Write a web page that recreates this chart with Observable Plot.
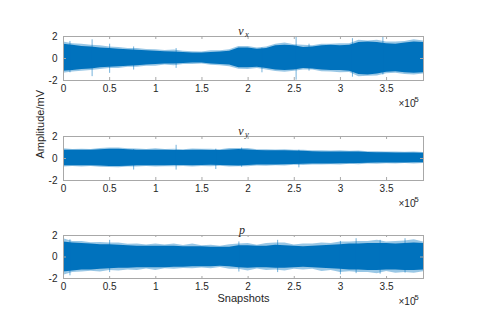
<!DOCTYPE html>
<html>
<head>
<meta charset="utf-8">
<script src="https://cdn.jsdelivr.net/npm/d3@7"></script>
<script src="https://cdn.jsdelivr.net/npm/@observablehq/plot@0.6"></script>
<style>
  html, body { margin: 0; padding: 0; background: #fff; }
  #chart { width: 479px; height: 326px; overflow: hidden; }
  #chart svg { display: block; }
</style>
</head>
<body>
<div id="chart"></div>
<script>
// sample positions (snapshots) at which the envelope was read
const snapshots = d3.range(0, 390001, 10000);
const xTicks = [0, 50000, 100000, 150000, 200000, 250000, 300000, 350000];
const yTicks = [-2, 0, 2];

// v_x : dense core envelope and light outer fringe (mV)
const vxHi  = [1.30,1.20,1.10,1.05,0.95,0.90,0.85,0.80,0.75,0.70,0.65,0.62,0.60,0.55,0.50,0.50,0.55,0.60,0.65,0.95,0.95,0.85,0.90,1.15,1.20,1.15,1.00,1.05,1.15,1.20,1.15,1.20,1.45,1.50,1.45,1.35,1.30,1.40,1.50,1.45];
const vxLo  = [-1.15,-1.10,-1.00,-0.95,-0.85,-0.80,-0.75,-0.70,-0.65,-0.60,-0.55,-0.50,-0.50,-0.45,-0.42,-0.42,-0.50,-0.55,-0.60,-0.85,-0.85,-0.80,-0.90,-1.05,-1.10,-1.05,-0.90,-0.95,-1.05,-1.10,-1.10,-1.15,-1.45,-1.50,-1.40,-1.25,-1.20,-1.30,-1.35,-1.30];
const vxFHi = [1.50,1.35,1.30,1.20,1.15,1.05,1.00,0.92,0.90,0.82,0.80,0.72,0.78,0.66,0.62,0.60,0.70,0.70,0.80,1.10,1.10,0.95,1.05,1.30,1.40,1.25,1.20,1.15,1.30,1.30,1.35,1.35,1.65,1.60,1.65,1.50,1.50,1.55,1.70,1.60];
const vxFLo = [-1.35,-1.22,-1.15,-1.08,-1.00,-0.92,-0.90,-0.80,-0.80,-0.70,-0.70,-0.60,-0.65,-0.54,-0.55,-0.50,-0.62,-0.65,-0.75,-0.98,-1.00,-0.90,-1.05,-1.18,-1.25,-1.15,-1.05,-1.05,-1.20,-1.22,-1.30,-1.28,-1.65,-1.62,-1.60,-1.38,-1.35,-1.45,-1.50,-1.42];
const vxSpikeX  = [7000, 31000, 50000, 76000, 122000, 215000, 252000, 266000, 313000, 346000];
const vxSpikeHi = [1.55, 1.70, 1.30, 1.05, 0.90, 0.95, 1.97, 1.30, 1.80, 1.95];
const vxSpikeLo = [-1.30, -1.65, -1.35, -1.05, -0.90, -1.30, -1.97, -1.15, -1.70, -1.50];

// v_y
const vyHi  = [0.75,0.75,0.75,0.75,0.80,0.85,0.85,0.80,0.75,0.75,0.75,0.75,0.72,0.72,0.75,0.75,0.72,0.72,0.78,0.82,0.78,0.72,0.70,0.70,0.70,0.68,0.65,0.62,0.60,0.60,0.60,0.58,0.58,0.55,0.52,0.52,0.50,0.50,0.50,0.48];
const vyLo  = [-0.65,-0.65,-0.65,-0.65,-0.68,-0.72,-0.72,-0.70,-0.66,-0.65,-0.66,-0.66,-0.64,-0.64,-0.66,-0.64,-0.62,-0.64,-0.66,-0.68,-0.64,-0.60,-0.58,-0.58,-0.57,-0.55,-0.53,-0.51,-0.50,-0.49,-0.48,-0.47,-0.46,-0.44,-0.42,-0.42,-0.40,-0.40,-0.39,-0.38];
const vyFHi = [0.88,0.82,0.85,0.82,0.92,0.95,0.96,0.88,0.86,0.82,0.88,0.82,0.84,0.80,0.86,0.84,0.83,0.80,0.90,0.92,0.90,0.80,0.80,0.78,0.80,0.75,0.76,0.70,0.70,0.68,0.70,0.65,0.68,0.62,0.62,0.58,0.60,0.56,0.60,0.55];
const vyFLo = [-0.78,-0.72,-0.78,-0.72,-0.80,-0.82,-0.84,-0.78,-0.78,-0.72,-0.78,-0.74,-0.75,-0.72,-0.78,-0.72,-0.74,-0.71,-0.78,-0.76,-0.76,-0.68,-0.70,-0.65,-0.68,-0.62,-0.64,-0.58,-0.60,-0.56,-0.58,-0.53,-0.56,-0.50,-0.52,-0.48,-0.50,-0.46,-0.49,-0.45];
const vySpikeX  = [76000, 122000, 165000, 193000, 255000];
const vySpikeHi = [0.80, 1.20, 0.85, 0.95, 0.75];
const vySpikeLo = [-1.05, -1.05, -1.00, -0.80, -0.85];

// p
const pHi  = [1.40,1.30,1.25,1.20,1.15,1.15,1.10,1.05,1.00,1.00,1.00,1.00,1.00,0.95,0.95,0.95,0.90,0.90,0.90,1.05,1.05,1.00,1.00,1.10,1.05,1.00,0.95,1.00,1.05,1.10,1.15,1.20,1.20,1.25,1.25,1.25,1.20,1.25,1.30,1.25];
const pLo  = [-1.40,-1.30,-1.20,-1.20,-1.15,-1.10,-1.05,-1.05,-1.00,-1.00,-1.00,-1.00,-0.95,-0.95,-0.90,-0.90,-0.90,-0.85,-0.90,-1.00,-1.05,-1.00,-1.00,-1.05,-1.05,-1.00,-0.95,-1.00,-1.05,-1.10,-1.15,-1.20,-1.20,-1.25,-1.25,-1.20,-1.20,-1.25,-1.25,-1.20];
const pFHi = [1.70,1.45,1.45,1.32,1.35,1.30,1.30,1.18,1.20,1.12,1.20,1.12,1.20,1.08,1.20,1.05,1.10,1.00,1.15,1.20,1.25,1.10,1.25,1.30,1.30,1.12,1.20,1.20,1.30,1.25,1.40,1.40,1.45,1.45,1.55,1.40,1.45,1.50,1.60,1.40];
const pFLo = [-1.70,-1.45,-1.40,-1.32,-1.40,-1.25,-1.30,-1.20,-1.25,-1.12,-1.25,-1.10,-1.15,-1.08,-1.10,-1.02,-1.10,-0.98,-1.15,-1.15,-1.30,-1.12,-1.25,-1.20,-1.30,-1.15,-1.20,-1.15,-1.35,-1.25,-1.45,-1.38,-1.45,-1.45,-1.55,-1.35,-1.50,-1.45,-1.50,-1.38];
const pSpikeX  = [7000, 50000, 190000, 232000, 300000, 317000, 343000, 370000];
const pSpikeHi = [1.60, 1.55, 1.40, 1.55, 1.45, 1.70, 1.55, 1.70];
const pSpikeLo = [-1.75, -1.45, -1.40, -1.45, -1.65, -1.55, -1.60, -1.50];

const BLUE = "#0072BD";
const AXIS = "#a8a8a8";
const TEXT = "#262626";
const SANS = "'Liberation Sans', Arial, Helvetica, sans-serif";
const SERIF = "'Liberation Serif', 'Times New Roman', serif";

function panel({height, marginBottom, hi, lo, fhi, flo, sx, shi, slo, title, sub, xLabel, yLabel}) {
  const rows = snapshots.map((x, i) => ({x, hi: hi[i], lo: lo[i], fhi: fhi[i], flo: flo[i]}));
  const spikes = sx.map((x, i) => ({x, hi: shi[i], lo: slo[i]}));
  const marks = [
    Plot.areaY(rows, {x: "x", y1: "flo", y2: "fhi", fill: BLUE, fillOpacity: 0.4}),
    Plot.areaY(rows, {x: "x", y1: "lo", y2: "hi", fill: BLUE}),
    Plot.ruleX(spikes, {x: "x", y1: "lo", y2: "hi", stroke: BLUE, strokeOpacity: 0.55, strokeWidth: 1}),
    Plot.frame({stroke: AXIS}),
    Plot.tickX(xTicks, {x: d => d, insetTop: 41, stroke: AXIS}),
    Plot.tickX(xTicks, {x: d => d, insetBottom: 41, stroke: AXIS}),
    Plot.tickY(yTicks, {y: d => d, insetRight: 357, stroke: AXIS}),
    Plot.tickY(yTicks, {y: d => d, insetLeft: 357, stroke: AXIS}),
    Plot.axisX({ticks: xTicks, tickSize: 0, tickPadding: 4, tickFormat: d => String(d / 1e5), label: null, fill: TEXT}),
    Plot.axisY({ticks: yTicks, tickSize: 0, tickPadding: 6, tickFormat: d => String(d), label: null, fill: TEXT}),
    Plot.text(["×10"], {text: d => d, frameAnchor: "bottom-right", dx: -25, dy: 26, textAnchor: "start", fontSize: 10, fill: TEXT}),
    Plot.text(["5"], {text: d => d, frameAnchor: "bottom-right", dx: -9, dy: 21, textAnchor: "start", fontSize: 7.5, fill: TEXT}),
    Plot.text([title], {text: d => d, frameAnchor: "top", dx: sub ? -2.5 : -1.5, dy: -10, fontFamily: SERIF, fontStyle: "italic", fontSize: 12, fill: TEXT})
  ];
  if (sub) marks.push(Plot.text([sub], {text: d => d, frameAnchor: "top", dx: 3.5, dy: -6, fontFamily: SERIF, fontStyle: "italic", fontSize: 8.5, fill: TEXT}));
  if (xLabel) marks.push(Plot.text([xLabel], {text: d => d, frameAnchor: "bottom", dy: 23, fontSize: 11, fill: TEXT}));
  if (yLabel) marks.push(Plot.text([yLabel], {text: d => d, frameAnchor: "left", dx: -23, rotate: -90, fontSize: 11, fill: TEXT}));
  return Plot.plot({
    width: 479,
    height,
    marginLeft: 63,
    marginRight: 56,
    marginTop: 36,
    marginBottom,
    x: {domain: [0, 390000]},
    y: {domain: [-2, 2]},
    style: {fontFamily: SANS, fontSize: "10px", color: TEXT, background: "white", overflow: "visible"},
    marks
  });
}

const chart = document.getElementById("chart");
chart.append(
  panel({height: 100, marginBottom: 20, hi: vxHi, lo: vxLo, fhi: vxFHi, flo: vxFLo, sx: vxSpikeX, shi: vxSpikeHi, slo: vxSpikeLo, title: "v", sub: "x"}),
  panel({height: 99, marginBottom: 19, hi: vyHi, lo: vyLo, fhi: vyFHi, flo: vyFLo, sx: vySpikeX, shi: vySpikeHi, slo: vySpikeLo, title: "v", sub: "y", yLabel: "Amplitude/mV"}),
  panel({height: 127, marginBottom: 48, hi: pHi, lo: pLo, fhi: pFHi, flo: pFLo, sx: pSpikeX, shi: pSpikeHi, slo: pSpikeLo, title: "p", xLabel: "Snapshots"})
);
</script>
</body>
</html>
